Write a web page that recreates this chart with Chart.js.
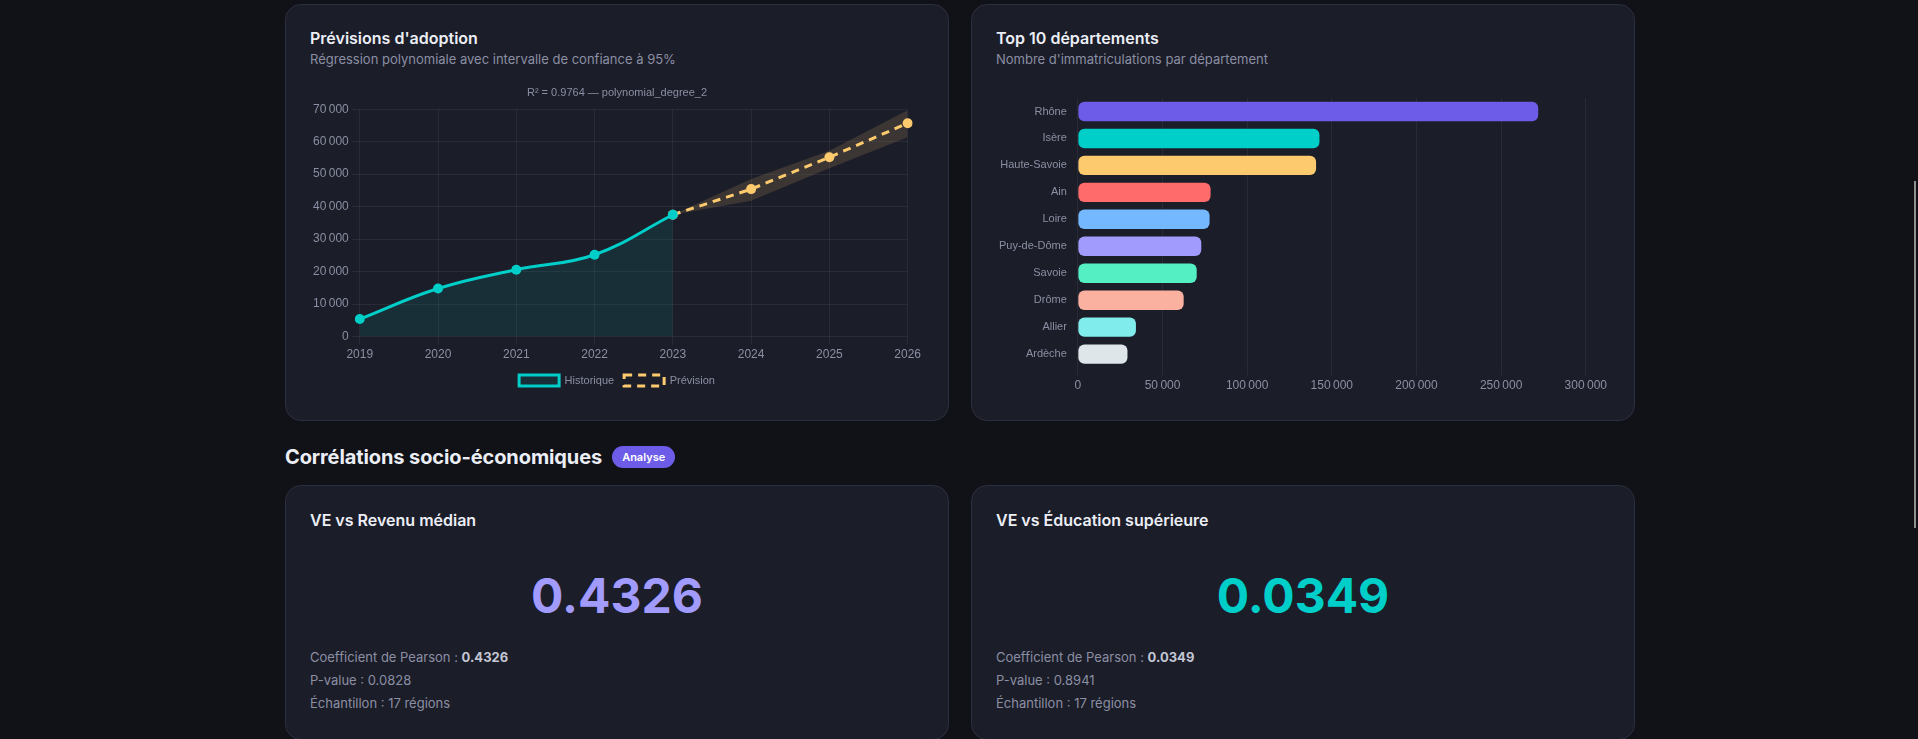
<!DOCTYPE html>
<html lang="fr">
<head>
<meta charset="utf-8">
<script src="https://cdn.jsdelivr.net/npm/chart.js@4.4.0/dist/chart.umd.min.js"></script>
<style>
  html, body { margin:0; padding:0; background:#111218; overflow:hidden; }
  body { width:1918px; height:739px; font-family: Inter, "Noto Sans", sans-serif; color:#e8e9f0; }
  .wrap { position:absolute; left:285px; top:4px; width:1350px; }
  .row { display:grid; grid-template-columns: 664px 664px; column-gap:22px; }
  .card { box-sizing:border-box; background:#1b1d29; border:1px solid #2b2e3e; border-radius:16px; padding:24px; }
  .top .card { padding-top:23px; }
  .card h3 { margin:0; font-size:16px; font-weight:600; line-height:20px; color:#eceef5; }
  .card .sub { margin-top:2px; font-size:13px; line-height:18px; color:#8b8fa3; }
  .chartbox { position:relative; margin-top:8px; height:320px; }
  .section { display:flex; align-items:center; height:28px; margin-top:22px; margin-bottom:14px; }
  .section h2 { margin:0; font-size:20px; font-weight:700; color:#eceef5; letter-spacing:-0.1px; }
  .badge { margin-left:10px; background:#6c5ce7; color:#fff; font-size:11px; font-weight:600; border-radius:11px; padding:0 10px; height:22px; line-height:22px; }
  .corr h3 { line-height:24px; margin-top:-2px; }
  .big { margin-top:36px; text-align:center; font-size:48px; line-height:56px; font-weight:700; }
  .stats { margin-top:22px; font-size:13px; line-height:23px; color:#8b8fa3; }
  .stats b { color:#c3c6d4; font-weight:700; }
  .scroll { position:absolute; left:1914px; top:181px; width:2px; height:347px; background:#8f8f8f; }
</style>
</head>
<body>
<div class="wrap">
  <div class="row top">
    <div class="card">
      <h3>Prévisions d'adoption</h3>
      <div class="sub">Régression polynomiale avec intervalle de confiance à 95%</div>
      <div class="chartbox"><canvas id="lineChart"></canvas></div>
    </div>
    <div class="card">
      <h3>Top 10 départements</h3>
      <div class="sub">Nombre d'immatriculations par département</div>
      <div class="chartbox"><canvas id="barChart"></canvas></div>
    </div>
  </div>
  <div class="section"><h2>Corrélations socio-économiques</h2><span class="badge">Analyse</span></div>
  <div class="row">
    <div class="card corr">
      <h3>VE vs Revenu médian</h3>
      <div class="big" style="color:#a29bfe">0.4326</div>
      <div class="stats">
        <div>Coefficient de Pearson : <b>0.4326</b></div>
        <div>P-value : 0.0828</div>
        <div>Échantillon : 17 régions</div>
      </div>
    </div>
    <div class="card corr">
      <h3>VE vs Éducation supérieure</h3>
      <div class="big" style="color:#00cec9">0.0349</div>
      <div class="stats">
        <div>Coefficient de Pearson : <b>0.0349</b></div>
        <div>P-value : 0.8941</div>
        <div>Échantillon : 17 régions</div>
      </div>
    </div>
  </div>
</div>
<div class="scroll"></div>

<script>
// ---- Data ----
const years = ['2019', '2020', '2021', '2022', '2023', '2024', '2025', '2026'];
const historique = [5400, 14800, 20600, 25200, 37500, null, null, null];
const prevision = [null, null, null, null, 37500, 45400, 55200, 65700];
const bandUpper = [null, null, null, null, 37500, 48500, 57200, 69700];
const bandLower = [null, null, null, null, 37500, 41800, 51800, 61400];
const chartTitle = 'R² = 0.9764 — polynomial_degree_2';

const departements = ['Rhône', 'Isère', 'Haute-Savoie', 'Ain', 'Loire', 'Puy-de-Dôme', 'Savoie', 'Drôme', 'Allier', 'Ardèche'];
const immatriculations = [271900, 142700, 140700, 78400, 77800, 72900, 70200, 62500, 34300, 29300];
const barColors = ['#6c5ce7', '#00cec9', '#fdcb6e', '#ff6b6b', '#74b9ff', '#a29bfe', '#55efc4', '#fab1a0', '#81ecec', '#dfe6e9'];

// ---- Defaults ----
Chart.defaults.font.family = "'Liberation Sans', Arial, sans-serif";
Chart.defaults.font.size = 12;
Chart.defaults.color = '#8b8fa3';
Chart.defaults.animation = false;
const gridColor = 'rgba(255,255,255,0.06)';

new Chart(document.getElementById('lineChart'), {
  type: 'line',
  data: {
    labels: years,
    datasets: [
      { label: 'Historique', data: historique, borderColor: '#00cec9', backgroundColor: 'rgba(0,206,201,0.1)',
        borderWidth: 3, pointRadius: 5, pointBackgroundColor: '#00cec9', pointBorderWidth: 0, tension: 0.4, fill: 'origin' },
      { label: 'Prévision', data: prevision, borderColor: '#fdcb6e', backgroundColor: 'transparent',
        borderWidth: 3, borderDash: [8, 6], pointRadius: 5, pointBackgroundColor: '#fdcb6e', pointBorderWidth: 0, tension: 0, fill: false },
      { label: 'upper', data: bandUpper, borderWidth: 0, pointRadius: 0, backgroundColor: 'rgba(253,203,110,0.14)', fill: '+1', tension: 0 },
      { label: 'lower', data: bandLower, borderWidth: 0, pointRadius: 0, backgroundColor: 'rgba(253,203,110,0.14)', fill: false, tension: 0 }
    ]
  },
  options: {
    responsive: true, maintainAspectRatio: false, locale: 'fr-FR',
    plugins: {
      title: { display: true, text: chartTitle, color: '#8b8fa3', font: { size: 11, weight: 'normal' } },
      legend: { position: 'bottom', labels: { font: { size: 11 }, filter: (item) => item.text === 'Historique' || item.text === 'Prévision' } },
      tooltip: { enabled: false }
    },
    scales: {
      x: { grid: { color: gridColor }, border: { display: false } },
      y: { beginAtZero: true, grid: { color: gridColor }, border: { display: false } }
    }
  }
});

new Chart(document.getElementById('barChart'), {
  type: 'bar',
  data: {
    labels: departements,
    datasets: [{ label: 'Immatriculations', data: immatriculations, backgroundColor: barColors, borderRadius: 6, borderSkipped: false }]
  },
  options: {
    indexAxis: 'y', responsive: true, maintainAspectRatio: false, locale: 'fr-FR',
    layout: { padding: { top: 22, bottom: 0 } },
    plugins: { legend: { display: false }, tooltip: { enabled: false } },
    scales: {
      x: { beginAtZero: true, grid: { color: gridColor }, border: { display: false } },
      y: { grid: { display: false }, border: { display: false }, ticks: { font: { size: 11 } } }
    }
  }
});
</script>
</body>
</html>
